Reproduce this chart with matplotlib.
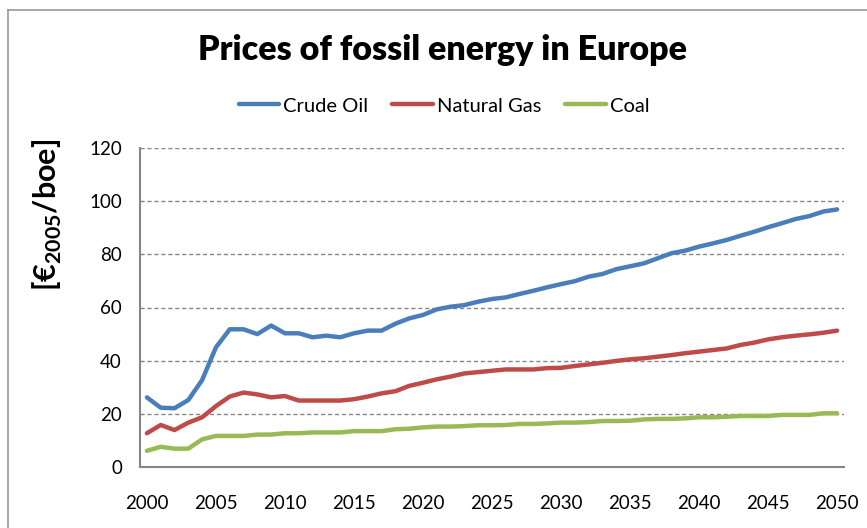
import matplotlib
matplotlib.use('Agg')
import matplotlib.pyplot as plt
from matplotlib.lines import Line2D

plt.rcParams['font.family'] = ['Lato', 'DejaVu Sans']
plt.rcParams['mathtext.fontset'] = 'custom'
plt.rcParams['mathtext.bf'] = 'Lato:bold'
plt.rcParams['mathtext.rm'] = 'Lato'

# prices in EUR(2005) per barrel of oil equivalent
years = list(range(2000, 2051))
crude_oil = [26.2, 22.3, 22.1, 25.2, 32.7, 45.0, 51.8, 51.8, 50.0, 53.2,
             50.3, 50.3, 48.8, 49.4, 48.8, 50.3, 51.3, 51.3, 53.9, 55.9,
             57.2, 59.3, 60.3, 60.9, 62.2, 63.2, 63.8, 65.1, 66.3, 67.6,
             68.8, 69.9, 71.6, 72.6, 74.4, 75.5, 76.6, 78.5, 80.4, 81.4,
             82.9, 84.1, 85.4, 87.0, 88.5, 90.2, 91.7, 93.3, 94.4, 96.1,
             96.9]
natural_gas = [12.7, 15.8, 13.9, 16.7, 18.7, 22.9, 26.5, 28.0, 27.3, 26.2,
               26.7, 25.0, 25.0, 25.0, 25.0, 25.5, 26.5, 27.7, 28.5, 30.5,
               31.7, 33.0, 34.0, 35.2, 35.7, 36.2, 36.7, 36.7, 36.7, 37.2,
               37.3, 38.0, 38.6, 39.2, 39.9, 40.5, 40.9, 41.5, 42.1, 42.8,
               43.4, 44.0, 44.6, 45.9, 46.8, 48.0, 48.8, 49.4, 49.9, 50.5,
               51.3]
coal = [6.1, 7.6, 6.9, 6.9, 10.4, 11.7, 11.7, 11.7, 12.2, 12.2,
        12.7, 12.7, 13.0, 13.0, 13.0, 13.5, 13.5, 13.5, 14.2, 14.4,
        14.9, 15.2, 15.2, 15.4, 15.7, 15.7, 15.8, 16.2, 16.2, 16.4,
        16.7, 16.7, 16.9, 17.3, 17.3, 17.4, 17.9, 18.1, 18.1, 18.3,
        18.7, 18.7, 18.9, 19.2, 19.2, 19.2, 19.6, 19.6, 19.6, 20.2,
        20.2]
x_ticks = list(range(2000, 2051, 5))
y_ticks = [0, 20, 40, 60, 80, 100, 120]

fig = plt.figure(figsize=(8.67, 5.28), dpi=100)
ax = fig.add_axes([140/867, 61/528, 704/867, 319/528])

grey = '#868686'
for y in y_ticks[1:]:
    ax.axhline(y, color=grey, lw=1.0, ls=(0, (3, 2)), zorder=1)

ax.plot(years, crude_oil, color='#4A7EBB', lw=3.2, label='Crude Oil',
        solid_capstyle='round', zorder=3)
ax.plot(years, natural_gas, color='#BE4B48', lw=3.2, label='Natural Gas',
        solid_capstyle='round', zorder=3)
ax.plot(years, coal, color='#98B954', lw=3.2, label='Coal',
        solid_capstyle='round', zorder=3)

ax.set_xlim(1999.5, 2050.5)
ax.set_ylim(0, 120)
ax.set_xticks(x_ticks)
ax.set_yticks(y_ticks)
ax.tick_params(axis='both', length=0, labelsize=13.5, colors='black')
ax.tick_params(axis='y', pad=13)
ax.tick_params(axis='x', pad=20)
for s in ['top', 'right']:
    ax.spines[s].set_visible(False)
for s in ['left', 'bottom']:
    ax.spines[s].set_color(grey)
    ax.spines[s].set_linewidth(1.5)

fig.text(443/867, 1 - 60/528, 'Prices of fossil energy in Europe',
         ha='center', va='baseline', fontsize=24.5, fontweight='heavy')
fig.text(47/867, 1 - 215/528, r'[€$_{\mathbf{2005}}$/boe]', rotation=90,
         ha='center', va='center', fontsize=22, fontweight='bold')

fig.legend(loc='center', bbox_to_anchor=(444/867, 1 - 106/528), ncol=3,
           frameon=False, fontsize=14.5, handlelength=2.0, handletextpad=0.2,
           columnspacing=1.2)

# chart frame (left and top edges only visible in the reference)
fig.add_artist(Line2D([8/867, 8/867], [0, 1 - 10/528], color='#999999',
                      lw=1.2, transform=fig.transFigure))
fig.add_artist(Line2D([8/867, 1], [1 - 10/528, 1 - 10/528], color='#999999',
                      lw=1.2, transform=fig.transFigure))

fig.savefig('out.png', dpi=100)
